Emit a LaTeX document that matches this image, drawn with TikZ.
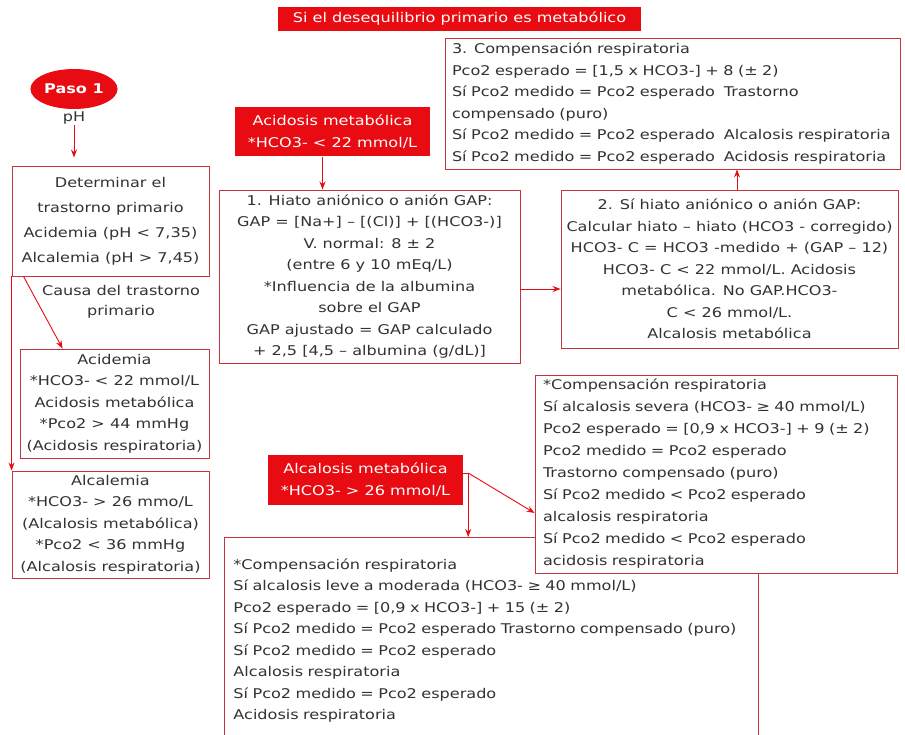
\documentclass[tikz,border=0pt]{standalone}
\usepackage{fontspec}
\setmainfont[FakeStretch=1.2]{DejaVu Sans}
\usetikzlibrary{shapes.geometric,arrows.meta}

\definecolor{rojo}{RGB}{232,12,18}
\definecolor{borde}{RGB}{196,52,62}
\definecolor{texto}{RGB}{50,50,50}

\tikzset{
  caja/.style={draw=borde, line width=0.9pt, fill=white, text=texto, inner sep=4pt, font=\fontsize{13.4}{21.5}\selectfont},
  roja/.style={fill=rojo, text=white, inner sep=2pt, align=center, font=\fontsize{13.4}{22}\selectfont},
  flecha/.style={draw=rojo, line width=0.9pt, -{Stealth[length=8pt,width=6pt]}},
}

\begin{document}
\begin{tikzpicture}[x=1pt,y=-1pt]
\useasboundingbox (0,0) rectangle (905,735);

% titulo
\node[roja, minimum width=363, minimum height=24] (titulo) at (459.5,19) {Si el desequilibrio primario es metabólico};

% paso 1
\node[ellipse, fill=rojo, text=white, minimum width=82, minimum height=40, inner sep=1pt, font=\bfseries\fontsize{13.4}{15}\selectfont] (paso) at (74,89) {Paso 1};
\node[text=texto, inner sep=1pt, font=\fontsize{13.4}{15}\selectfont] (ph) at (74,118) {pH};

% columna izquierda
\node[caja, align=center, minimum width=197, minimum height=110, font=\fontsize{13.4}{25}\selectfont] (det) at (110.5,221)
  {Determinar el\\trastorno primario\\Acidemia (pH < 7,35)\\Alcalemia (pH > 7,45)};
\node[text=texto, align=center, font=\fontsize{13.4}{20.5}\selectfont] (causa) at (121,302) {Causa del trastorno\\primario};
\node[caja, align=center, minimum width=189, minimum height=109, inner xsep=1pt] (acid) at (114.5,403.5)
  {Acidemia\\*HCO3- < 22 mmol/L\\Acidosis metabólica\\*Pco2 > 44 mmHg\\(Acidosis respiratoria)};
\node[caja, align=center, minimum width=197, minimum height=107, inner xsep=1pt] (alca) at (110.5,524.5)
  {Alcalemia\\*HCO3- > 26 mmo/L\\(Alcalosis metabólica)\\*Pco2 < 36 mmHg\\(Alcalosis respiratoria)};

\draw[flecha, shorten >=8pt] (ph.south) -- (ph.south |- det.north);
\draw[flecha] ([xshift=12]det.south west) -- ([xshift=43]acid.north west);
\draw[flecha] (det.south west) -- (alca.north west);

% acidosis metabolica
\node[roja, minimum width=195, minimum height=49] (acidosis) at (332.5,132) {Acidosis metabólica\\*HCO3- < 22 mmol/L};
\node[caja, align=center, minimum width=301, minimum height=173] (gap) at (369.5,276.5)
  {1. Hiato aniónico o anión GAP:\\GAP = [Na+] – [(Cl)] + [(HCO3-)]\\V. normal: 8 ± 2\\(entre 6 y 10 mEq/L)\\*Influencia de la albumina\\sobre el GAP\\GAP ajustado = GAP calculado\\+ 2,5 [4,5 – albumina (g/dL)]};
\node[caja, align=center, minimum width=337, minimum height=158, inner xsep=2pt] (hiato) at (729.5,269)
  {2. Sí hiato aniónico o anión GAP:\\Calcular hiato – hiato (HCO3 - corregido)\\HCO3- C = HCO3 -medido + (GAP – 12)\\HCO3- C < 22 mmol/L. Acidosis\\metabólica. No GAP.HCO3-\\C < 26 mmol/L.\\Alcalosis metabólica};
\node[caja, align=left, text width=441, inner xsep=7, minimum height=131] (comp) at (672.5,103.5)
  {3. Compensación respiratoria\\Pco2 esperado = [1,5 x HCO3-] + 8 (± 2)\\Sí Pco2 medido = Pco2 esperado\ \ Trastorno\\compensado (puro)\\Sí Pco2 medido = Pco2 esperado\ \ Alcalosis respiratoria\\Sí Pco2 medido = Pco2 esperado\ \ Acidosis respiratoria};

\draw[flecha] ([xshift=-10]acidosis.south) -- ([xshift=-10]acidosis.south |- gap.north);
\draw[flecha] ([yshift=-12.5]gap.east) -- ([yshift=-12.5]gap.east -| hiato.west);
\draw[flecha] ([xshift=7.5]hiato.north) -- ([xshift=7.5]hiato.north |- comp.south);

% alcalosis metabolica
\node[roja, minimum width=195, minimum height=50] (alcalosis) at (365.5,480) {Alcalosis metabólica\\*HCO3- > 26 mmol/L};
\node[caja, anchor=north west, align=left, text width=516, inner xsep=9, inner ysep=21] (leve) at (224,537)
  {*Compensación respiratoria\\Sí alcalosis leve a moderada (HCO3- ≥ 40 mmol/L)\\Pco2 esperado = [0,9 x HCO3-] + 15 (± 2)\\Sí Pco2 medido = Pco2 esperado Trastorno compensado (puro)\\Sí Pco2 medido = Pco2 esperado\\Alcalosis respiratoria\\Sí Pco2 medido = Pco2 esperado\\Acidosis respiratoria};
\node[caja, align=left, text width=346, inner xsep=8, minimum height=198, font=\fontsize{13.4}{22}\selectfont] (severa) at (716,474)
  {*Compensación respiratoria\\Sí alcalosis severa (HCO3- ≥ 40 mmol/L)\\Pco2 esperado = [0,9 x HCO3-] + 9 (± 2)\\Pco2 medido = Pco2 esperado\\Trastorno compensado (puro)\\Sí Pco2 medido < Pco2 esperado\\alcalosis respiratoria\\Sí Pco2 medido < Pco2 esperado\\acidosis respiratoria};

\coordinate (ramal) at ([xshift=5,yshift=7]alcalosis.east);
\draw[draw=rojo, line width=0.9pt] ([yshift=7]alcalosis.east) -- (ramal);
\draw[flecha] (ramal) -- (ramal |- leve.north);
\draw[flecha] (ramal) -- ([yshift=-39]severa.west);
\end{tikzpicture}
\end{document}
